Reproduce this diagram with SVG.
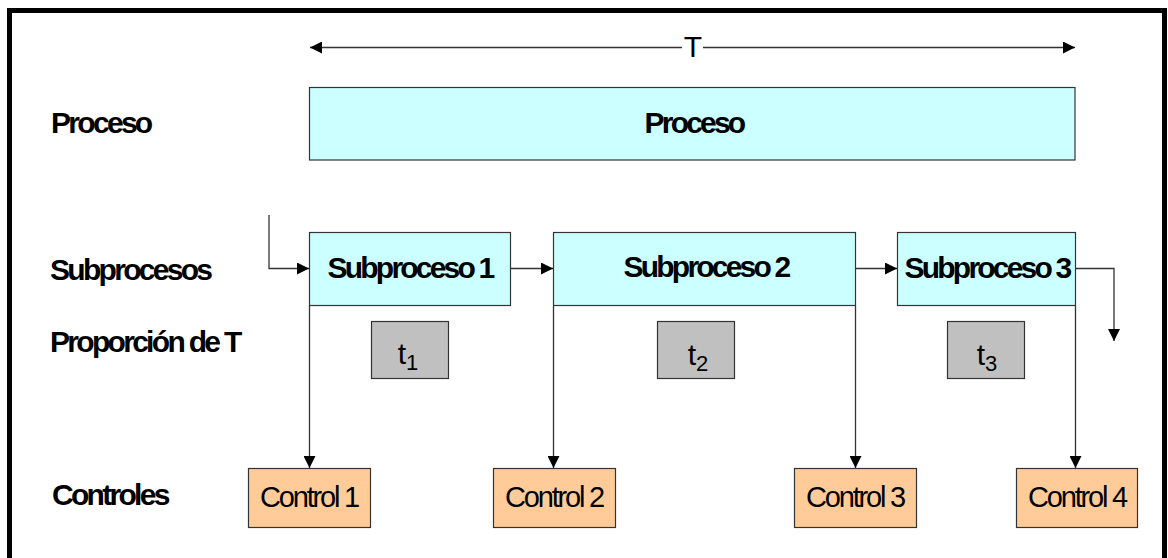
<svg xmlns="http://www.w3.org/2000/svg" width="1168" height="558" viewBox="0 0 1168 558">
  <defs>
    <marker id="arrow" viewBox="0 0 10 10" refX="10" refY="5" markerWidth="14" markerHeight="12" markerUnits="userSpaceOnUse" orient="auto-start-reverse">
      <path d="M0,0 L10,5 L0,10 Z" fill="#000"/>
    </marker>
    <style>
      text { font-family: "Liberation Sans", Arial, sans-serif; fill: #000; }
      .row { font-size: 30px; font-weight: bold; letter-spacing: -2.7px; }
      .title { font-size: 30px; font-weight: bold; letter-spacing: -2.8px; text-anchor: middle; }
      .ctl { font-size: 29px; letter-spacing: -2.2px; text-anchor: middle; }
      .tt { font-size: 30px; text-anchor: middle; }
      .proc { fill: #CCFFFF; stroke: #333; stroke-width: 1.2; }
      .time { fill: #C0C0C0; stroke: #333; stroke-width: 1.2; }
      .control { fill: #FFCC99; stroke: #333; stroke-width: 1.2; }
      .conn { fill: none; stroke: #333; stroke-width: 1.3; }
    </style>
  </defs>

  <rect width="1168" height="558" fill="#fff"/>

  <!-- outer frame (open at the bottom edge) -->
  <path d="M9.5,570 V10.5 H1164.5 V570" fill="none" stroke="#000" stroke-width="5"/>

  <!-- row labels -->
  <g id="row-labels">
    <text class="row" x="51" y="133">Proceso</text>
    <text class="row" x="50" y="280">Subprocesos</text>
    <text class="row" x="50" y="352">Proporción de T</text>
    <text class="row" x="52" y="505">Controles</text>
  </g>

  <!-- time span T -->
  <g id="span-T">
    <text x="693" y="57" style="font-size:30px" text-anchor="middle">T</text>
  </g>

  <g id="proceso">
    <rect class="proc" x="309.5" y="87.5" width="765.5" height="72.5"/>
    <text class="title" x="694" y="133">Proceso</text>
  </g>

  <g id="subproceso-1">
    <rect class="proc" x="309.5" y="232.5" width="201" height="73"/>
    <text class="title" x="410" y="278">Subproceso 1</text>
  </g>
  <g id="subproceso-2">
    <rect class="proc" x="553.5" y="232.5" width="302" height="73"/>
    <text class="title" x="706" y="277">Subproceso 2</text>
  </g>
  <g id="subproceso-3">
    <rect class="proc" x="897.5" y="232.5" width="178" height="73"/>
    <text class="title" x="987" y="278">Subproceso 3</text>
  </g>

  <g id="t1">
    <rect class="time" x="371.5" y="321.5" width="77" height="57"/>
    <text class="tt" x="408" y="364">t<tspan dy="6" font-size="22">1</tspan></text>
  </g>
  <g id="t2">
    <rect class="time" x="657.5" y="321.5" width="77" height="57"/>
    <text class="tt" x="698" y="365">t<tspan dy="6" font-size="22">2</tspan></text>
  </g>
  <g id="t3">
    <rect class="time" x="947.5" y="321.5" width="77" height="57"/>
    <text class="tt" x="987" y="365">t<tspan dy="6" font-size="22">3</tspan></text>
  </g>

  <g id="control-1">
    <rect class="control" x="248.5" y="468.5" width="122" height="59"/>
    <text class="ctl" x="309" y="507">Control 1</text>
  </g>
  <g id="control-2">
    <rect class="control" x="493.5" y="468.5" width="122" height="59"/>
    <text class="ctl" x="554" y="507">Control 2</text>
  </g>
  <g id="control-3">
    <rect class="control" x="794.5" y="468.5" width="122" height="59"/>
    <text class="ctl" x="855" y="507">Control 3</text>
  </g>
  <g id="control-4">
    <rect class="control" x="1016.5" y="468.5" width="121" height="59"/>
    <text class="ctl" x="1077" y="507">Control 4</text>
  </g>

  <!-- connectors -->
  <g id="connectors">
    <!-- T span arrows, broken around the label -->
    <line class="conn" x1="310" y1="47.5" x2="682" y2="47.5" marker-start="url(#arrow)"/>
    <line class="conn" x1="703" y1="47.5" x2="1075" y2="47.5" marker-end="url(#arrow)"/>

    <!-- flow through the subprocesses -->
    <path class="conn" d="M269,215 V268.5 H309" marker-end="url(#arrow)"/>
    <line class="conn" x1="511" y1="268.5" x2="553" y2="268.5" marker-end="url(#arrow)"/>
    <line class="conn" x1="856" y1="268.5" x2="897" y2="268.5" marker-end="url(#arrow)"/>
    <path class="conn" d="M1076,268.5 H1114 V341" marker-end="url(#arrow)"/>

    <!-- control points -->
    <line class="conn" x1="309.5" y1="306" x2="309.5" y2="468" marker-end="url(#arrow)"/>
    <line class="conn" x1="553.5" y1="306" x2="553.5" y2="468" marker-end="url(#arrow)"/>
    <line class="conn" x1="855.5" y1="306" x2="855.5" y2="468" marker-end="url(#arrow)"/>
    <line class="conn" x1="1075.5" y1="306" x2="1075.5" y2="468" marker-end="url(#arrow)"/>
  </g>
</svg>
